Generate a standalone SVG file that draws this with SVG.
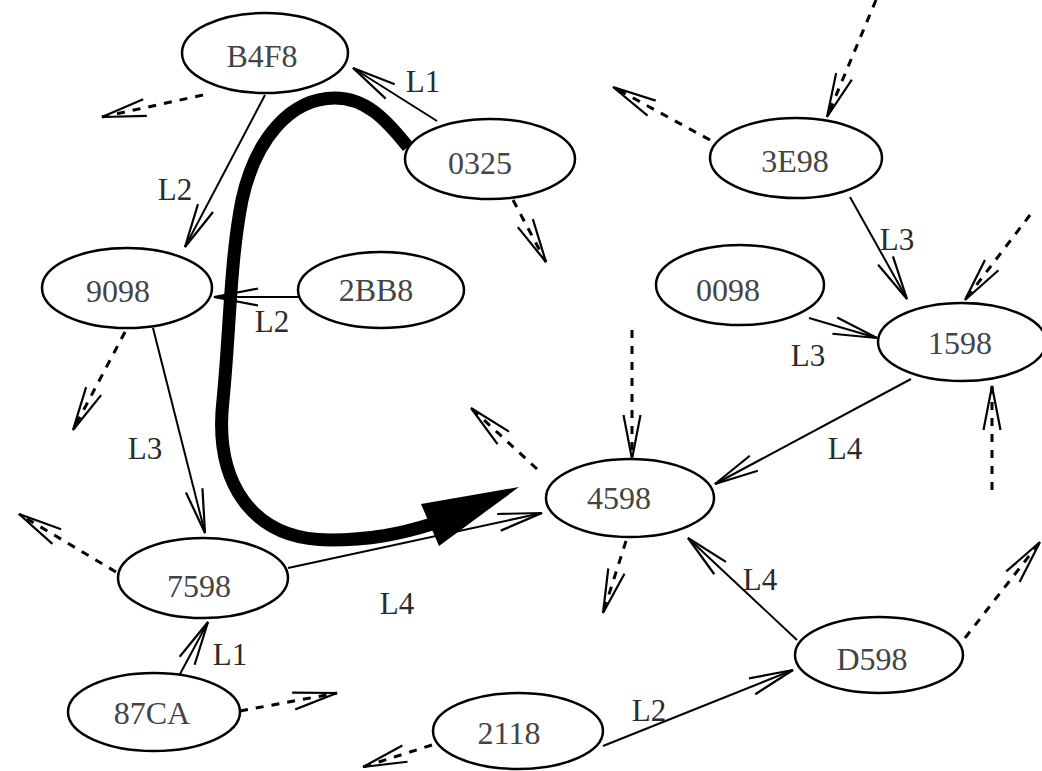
<svg xmlns="http://www.w3.org/2000/svg" width="1042" height="771" viewBox="0 0 1042 771">
<defs>
<style>
.node ellipse{fill:none;stroke:#000;stroke-width:2.5}
.node text{font-family:"Liberation Serif","Times New Roman",serif;font-size:32px;fill:#444;text-anchor:middle}
.lbl{font-family:"Liberation Serif","Times New Roman",serif;font-size:31px;fill:#2a2a2a;text-anchor:middle}
.e{fill:none;stroke:#000;stroke-width:2;marker-end:url(#v)}
.d{fill:none;stroke:#000;stroke-width:3;stroke-dasharray:8 8;marker-end:url(#v)}
</style>
<marker id="v" markerUnits="userSpaceOnUse" markerWidth="52" markerHeight="28" viewBox="-48 -14 52 28" refX="0" refY="0" orient="auto" overflow="visible">
<path d="M-44,-8.5 L0,0 L-44,8.5" fill="none" stroke="#000" stroke-width="2.2"/>
</marker>
</defs>
<rect width="1042" height="771" fill="#fff"/>
<g id="connectors">
<path class="e" d="M437,121 L353,68"/>
<path class="e" d="M265,95 L185,247"/>
<path class="e" d="M298,297 L214,297"/>
<path class="e" d="M153,328 L205,533"/>
<path class="e" d="M180,674 L208,622"/>
<path class="e" d="M288,568 L542,513"/>
<path class="e" d="M809,318 L877,338"/>
<path class="e" d="M850,197 L907,299"/>
<path class="e" d="M911,379 L715,484"/>
<path class="e" d="M797,640 L688,538"/>
<path class="e" d="M603,746 L793,670"/>
<path class="d" d="M203,95 L102,117"/>
<path class="d" d="M513,200 L546,262"/>
<path class="d" d="M710,140 L613,87"/>
<path class="d" d="M876,0 L827,117"/>
<path class="d" d="M1030,215 L965,300"/>
<path class="d" d="M992,490 L992,386"/>
<path class="d" d="M632,330 L632,459"/>
<path class="d" d="M537,469 L471,408"/>
<path class="d" d="M626,541 L603,613"/>
<path class="d" d="M116,572 L19,514"/>
<path class="d" d="M125,332 L73,430"/>
<path class="d" d="M240,711 L337,693"/>
<path class="d" d="M432,745 L363,767"/>
<path class="d" d="M965,638 L1040,542"/>
<path d="M408,147 C385,118 365,98 335,98 C290,98 255,140 242,200 C230,260 230,330 223,400 C214,480 250,540 330,540 C370,540 400,534 432,524" fill="none" stroke="#000" stroke-width="13"/>
<polygon points="519,487 439,546 421,504" fill="#000"/>
<text class="lbl" x="423" y="92">L1</text>
<text class="lbl" x="175" y="200">L2</text>
<text class="lbl" x="272" y="332">L2</text>
<text class="lbl" x="145" y="459">L3</text>
<text class="lbl" x="230" y="665">L1</text>
<text class="lbl" x="397" y="614">L4</text>
<text class="lbl" x="808" y="366">L3</text>
<text class="lbl" x="897" y="250">L3</text>
<text class="lbl" x="845" y="459">L4</text>
<text class="lbl" x="760" y="590">L4</text>
<text class="lbl" x="649" y="721">L2</text>
</g>
<g id="n-B4F8" class="node"><ellipse cx="265" cy="53" rx="83" ry="40"/><text x="262" y="67">B4F8</text></g>
<g id="n-0325" class="node"><ellipse cx="490" cy="159" rx="85" ry="40"/><text x="480" y="174">0325</text></g>
<g id="n-3E98" class="node"><ellipse cx="796" cy="158" rx="86" ry="40"/><text x="795" y="172">3E98</text></g>
<g id="n-9098" class="node"><ellipse cx="127" cy="288" rx="85" ry="40"/><text x="118" y="302">9098</text></g>
<g id="n-2BB8" class="node"><ellipse cx="381" cy="290" rx="83" ry="38"/><text x="376" y="301">2BB8</text></g>
<g id="n-0098" class="node"><ellipse cx="740" cy="285" rx="84" ry="40"/><text x="728" y="301">0098</text></g>
<g id="n-1598" class="node"><ellipse cx="962" cy="342" rx="84" ry="39"/><text x="960" y="354">1598</text></g>
<g id="n-4598" class="node"><ellipse cx="630" cy="498" rx="84" ry="39"/><text x="619" y="509">4598</text></g>
<g id="n-7598" class="node"><ellipse cx="203" cy="578" rx="85" ry="40"/><text x="199" y="597">7598</text></g>
<g id="n-87CA" class="node"><ellipse cx="154" cy="712" rx="86" ry="39"/><text x="152" y="724">87CA</text></g>
<g id="n-2118" class="node"><ellipse cx="518" cy="731" rx="85" ry="38"/><text x="509" y="744">2118</text></g>
<g id="n-D598" class="node"><ellipse cx="879" cy="655" rx="84" ry="38"/><text x="872" y="670">D598</text></g>
</svg>
